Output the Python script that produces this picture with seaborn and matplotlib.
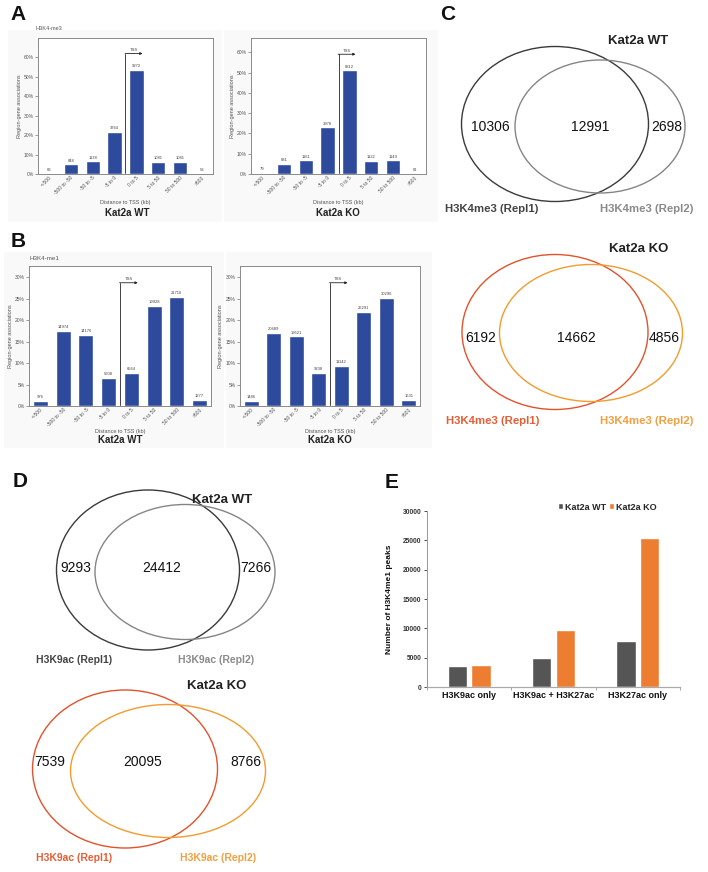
import matplotlib
matplotlib.use("Agg")
import matplotlib.pyplot as plt
from matplotlib.patches import Ellipse, Rectangle
from matplotlib.ticker import FuncFormatter, FixedLocator
import seaborn as sns
import pandas as pd

# ---------------- data ----------------
dist_cats = ["<-500", "-500 to -50", "-50 to -5", "-5 to 0", "0 to 5", "5 to 50", "50 to 500", ">500"]
h3k4me3_wt = [63, 848, 1138, 3764, 9272, 1081, 1081, 53]
h3k4me3_ko = [79, 881, 1161, 3978, 8812, 1122, 1149, 61]
h3k4me1_wt = [976, 14974, 14176, 5608, 6564, 19928, 21716, 1277]
h3k4me1_ko = [1486, 20489, 19521, 9238, 11142, 26291, 30296, 1631]

venn_c_wt = [10306, 12991, 2698]
venn_c_ko = [6192, 14662, 4856]
venn_d_wt = [9293, 24412, 7266]
venn_d_ko = [7539, 20095, 8766]

e_categories = ["H3K9ac only", "H3K9ac + H3K27ac", "H3K27ac only"]
e_wt = [3600, 4900, 7800]
e_ko = [3800, 9700, 25400]
e_yticks = [0, 5000, 10000, 15000, 20000, 25000, 30000]

# ---------------- style ----------------
sns.set_theme(style="white")
plt.rcParams["font.family"] = ["Liberation Sans", "DejaVu Sans"]

W, H = 708, 872
fig = plt.figure(figsize=(W / 100, H / 100), dpi=100)
fig.patch.set_facecolor("white")

BLUE = "#2d4a9c"


def px_axes(l, t, r, b):
    return fig.add_axes([l / W, 1 - b / H, (r - l) / W, (b - t) / H])


# overlay for venns, labels, background
ov = fig.add_axes([0, 0, 1, 1])
ov.set_xlim(0, W)
ov.set_ylim(H, 0)
ov.axis("off")
ov.set_zorder(-1)

# very light grey backgrounds of the exported GREAT charts
for (l, t, r, b) in [(8, 30, 222, 222), (224, 30, 438, 222), (4, 252, 224, 448), (226, 252, 432, 448)]:
    ov.add_patch(Rectangle((l, t), r - l, b - t, facecolor="#f9f9f9", edgecolor="none"))


def dist_panel(box, counts, ymax, yticks, tss_top, ylab_x, xlab_y):
    ax = px_axes(*box)
    total = sum(counts)
    pct = [c / total * 100 for c in counts]
    df = pd.DataFrame({"cat": dist_cats, "pct": pct})
    sns.barplot(data=df, x="cat", y="pct", color=BLUE, saturation=1, width=0.65, ax=ax)
    ax.set_xlim(-0.5, 7.5)
    ax.set_ylim(0, ymax)
    ax.set_yticks(yticks)
    ax.yaxis.set_major_formatter(FuncFormatter(lambda v, p: f"{v:.0f}%"))
    ax.tick_params(axis="y", labelsize=3.6, length=2, width=0.4, pad=1, colors="#555555", left=True)
    ax.tick_params(axis="x", labelsize=3.6, length=0, pad=1, colors="#555555")
    plt.setp(ax.get_xticklabels(), rotation=45, ha="right", rotation_mode="anchor")
    for s in ax.spines.values():
        s.set_color("#8a8a8a")
        s.set_linewidth(0.7)
    for i, (c, p) in enumerate(zip(counts, pct)):
        ax.text(i, p + ymax * 0.012, f"{c}", ha="center", va="bottom", fontsize=3, color="#444444")
    ax.plot([3.5, 3.5], [ymax * 0.01, tss_top], color="#222222", lw=0.6)
    ax.annotate("", xy=(4.28, tss_top), xytext=(3.48, tss_top),
                arrowprops=dict(arrowstyle="-|>", lw=0.6, color="#222222", mutation_scale=3.5,
                                shrinkA=0, shrinkB=0))
    ax.text(3.87, tss_top + ymax * 0.012, "TSS", fontsize=3, ha="center", va="bottom", color="#444444")
    ax.set_ylabel("Region-gene associations", fontsize=4, color="#555555")
    ax.yaxis.set_label_coords(ylab_x, 0.5)
    ax.set_xlabel("Distance to TSS (kb)", fontsize=4, color="#555555")
    ax.xaxis.set_label_coords(0.5, xlab_y)
    return ax


# Panel A
dist_panel((38, 38, 213, 174), h3k4me3_wt, 70, range(0, 61, 10), 62, -0.09, -0.19)
dist_panel((251, 38, 426, 174), h3k4me3_ko, 67, range(0, 61, 10), 59, -0.09, -0.19)
# Panel B
dist_panel((29, 266, 211, 406), h3k4me1_wt, 32.6, range(0, 31, 5), 28.7, -0.088, -0.164)
dist_panel((240, 266, 420, 406), h3k4me1_ko, 32.6, range(0, 31, 5), 28.7, -0.094, -0.164)

ov.text(36, 28, "H3K4-me3", fontsize=4, color="#555555", ha="left", va="center")
ov.text(29, 258, "H3K4-me1", fontsize=4.5, color="#555555", ha="left", va="center")
for (x, y, s) in [(127, 213, "Kat2a WT"), (338, 213, "Kat2a KO"), (120, 440, "Kat2a WT"), (330, 440, "Kat2a KO")]:
    ov.text(x, y, s, fontsize=7, fontweight="bold", color="#222222", ha="center", va="center")

# panel letters
for (x, y, s) in [(18, 15, "A"), (18, 241, "B"), (448, 14, "C"), (20, 481, "D"), (392, 482, "E")]:
    ov.text(x, y, s, fontsize=15, fontweight="bold", color="#111111", ha="center", va="center")


# ---------------- venns ----------------
def venn(counts, e1, e2, c1, c2, num_pos, title_pos, title, lab1, lab2, lab_col1, lab_col2, lab_y,
         lab_x1, lab_x2, labfs=8.2):
    ov.add_patch(Ellipse((e1[0], e1[1]), e1[2], e1[3], fill=False, edgecolor=c1, lw=1.0))
    ov.add_patch(Ellipse((e2[0], e2[1]), e2[2], e2[3], fill=False, edgecolor=c2, lw=1.0))
    for (x, y), v in zip(num_pos, counts):
        ov.text(x, y, f"{v}", fontsize=10, color="#111111", ha="center", va="center")
    ov.text(title_pos[0], title_pos[1], title, fontsize=9.5, fontweight="bold", color="#222222",
            ha="center", va="center")
    ov.text(lab_x1, lab_y, lab1, fontsize=labfs, fontweight="bold", color=lab_col1, ha="center", va="center")
    ov.text(lab_x2, lab_y, lab2, fontsize=labfs, fontweight="bold", color=lab_col2, ha="center", va="center")


RED = "#e2522b"
ORANGE = "#f29b2e"

venn(venn_c_wt, (555, 124, 187, 155), (600, 126.5, 170, 133), "#3a3a3a", "#858585",
     [(490, 127), (590, 127), (667, 127)], (638, 41), "Kat2a WT",
     "H3K4me3 (Repl1)", "H3K4me3 (Repl2)", "#444444", "#8a8a8a", 209, 492, 647)
venn(venn_c_ko, (555, 332, 186, 155), (591, 333, 183, 137), RED, ORANGE,
     [(481, 338), (576, 338), (664, 338)], (639, 249), "Kat2a KO",
     "H3K4me3 (Repl1)", "H3K4me3 (Repl2)", "#e35f35", "#f0a040", 421, 493, 647)

venn(venn_d_wt, (148, 570, 183, 160), (185, 572, 180, 135), "#3a3a3a", "#858585",
     [(76, 568), (162, 568), (256, 568)], (222, 500), "Kat2a WT",
     "H3K9ac (Repl1)", "H3K9ac (Repl2)", "#444444", "#8a8a8a", 660, 74, 216, labfs=7.5)
venn(venn_d_ko, (125, 769, 185, 158), (168, 771, 195, 133), RED, ORANGE,
     [(50, 762), (143, 762), (246, 762)], (217, 686), "Kat2a KO",
     "H3K9ac (Repl1)", "H3K9ac (Repl2)", "#e35f35", "#f0a040", 858, 74, 218, labfs=7.5)

# ---------------- panel E ----------------
axe = px_axes(427, 511, 680, 687)
dfe = pd.DataFrame({
    "cat": e_categories * 2,
    "peaks": e_wt + e_ko,
    "cond": ["Kat2a WT"] * len(e_wt) + ["Kat2a KO"] * len(e_ko),
})
sns.barplot(data=dfe, x="cat", y="peaks", hue="cond", palette=["#555555", "#ed7d31"],
            saturation=1, width=0.56, gap=0.18, ax=axe)
axe.set_xlim(-0.5, 2.5)
axe.set_ylim(0, 30000)
axe.set_yticks(e_yticks)
axe.tick_params(axis="y", labelsize=4.8, length=2.5, width=0.6, pad=1.5, colors="#333333", left=True)
for lab in axe.get_yticklabels():
    lab.set_fontweight("bold")
axe.tick_params(axis="x", which="major", length=0, labelsize=6.5, pad=3, colors="#111111")
for lab in axe.get_xticklabels():
    lab.set_fontweight("bold")
axe.xaxis.set_minor_locator(FixedLocator([-0.5, 0.5, 1.5, 2.5]))
axe.tick_params(axis="x", which="minor", bottom=True, length=2.5, width=0.6, color="#999999")
for s in ["top", "right"]:
    axe.spines[s].set_visible(False)
axe.spines["left"].set_color("#999999")
axe.spines["bottom"].set_color("#aaaaaa")
axe.spines["left"].set_linewidth(0.7)
axe.spines["bottom"].set_linewidth(0.9)
axe.set_xlabel("")
axe.set_ylabel("Number of H3K4me1 peaks", fontsize=6, fontweight="bold", color="#111111")
axe.yaxis.set_label_coords(-0.134, 0.5)
leg = axe.legend(loc="center", bbox_to_anchor=(607 / W, 1 - 507 / H), bbox_transform=fig.transFigure,
                 ncol=2, frameon=False, handlelength=0.6, handleheight=0.6, handletextpad=0.2,
                 columnspacing=0.3, prop={"size": 6.5, "weight": "bold"})

fig.savefig("out.png", dpi=100, facecolor="white")
